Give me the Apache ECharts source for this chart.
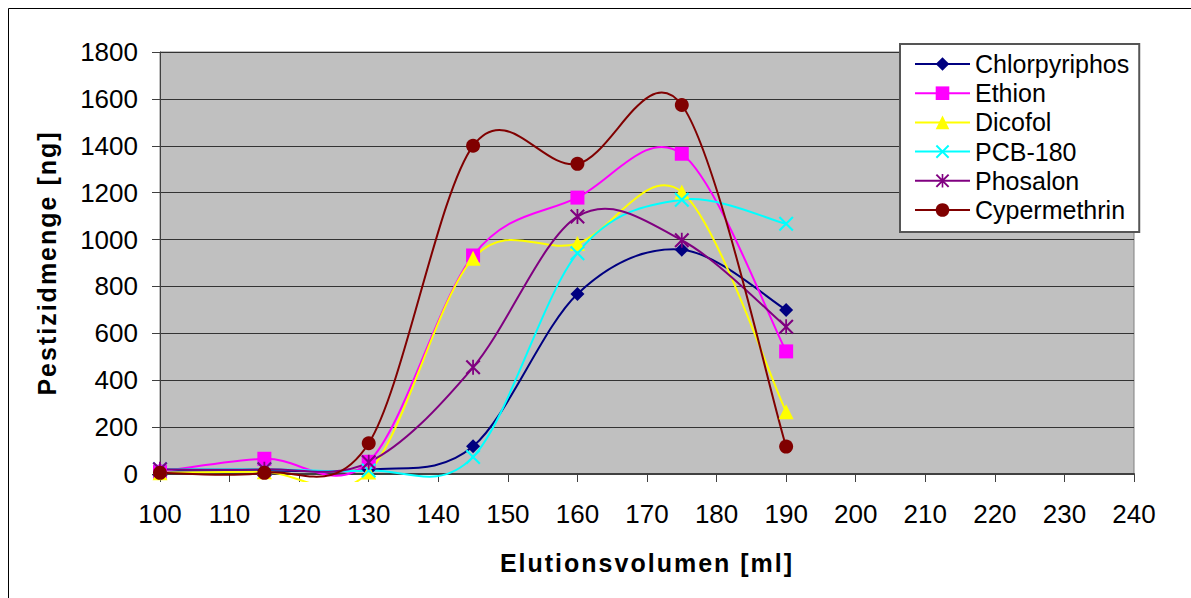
<!DOCTYPE html>
<html>
<head>
<meta charset="utf-8">
<script src="https://cdn.jsdelivr.net/npm/echarts@6/dist/echarts.min.js"></script>
<style>
  html, body { margin: 0; padding: 0; background: #fff; }
  #chart { width: 1191px; height: 598px; }
  /* axis titles are set a little wider, as in the spreadsheet export */
  #chart svg text[style*="bold"] { letter-spacing: 2px; }
</style>
</head>
<body>
<div id="chart"></div>
<script>
// Elution volume (ml) of each collected fraction
const volumes = [100, 115, 130, 145, 160, 175, 190];

// Recovered pesticide amount per fraction (ng)
const chlorpyriphos = [15, 15, 18, 118, 768, 957, 700];
const ethion        = [10, 65, 52, 932, 1179, 1366, 523];
const dicofol       = [5, 10, 8, 920, 983, 1203, 265];
const pcb180        = [20, 20, 15, 73, 942, 1170, 1067];
const phosalon      = [20, 20, 50, 455, 1098, 997, 628];
const cypermethrin  = [5, 5, 131, 1400, 1323, 1574, 117];

const seriesNames = ['Chlorpyriphos', 'Ethion', 'Dicofol', 'PCB-180', 'Phosalon', 'Cypermethrin'];

// x axis: 100 … 240 ml, y axis: 0 … 1800 ng
const xTicks = { min: 100, max: 240, step: 10 };
const yTicks = { min: 0, max: 1800, step: 200 };

const FONT = '"Liberation Sans", Arial, Helvetica, sans-serif';

// marker shapes
const crossPath = 'path://M0,1L1,0L10,9L9,10ZM9,0L10,1L1,10L0,9Z';
const starPath  = 'path://M0,1L1,0L10,9L9,10ZM9,0L10,1L1,10L0,9ZM4.4,0L5.6,0L5.6,10L4.4,10Z';

const styles = [
  { color: '#000080', symbol: 'diamond',  size: 14 },
  { color: '#FF00FF', symbol: 'rect',     size: 14 },
  { color: '#FFFF00', symbol: 'triangle', size: 15 },
  { color: '#00FFFF', symbol: crossPath,  size: 15 },
  { color: '#800080', symbol: starPath,   size: 15 },
  { color: '#800000', symbol: 'circle',   size: 14 }
];

const values = [chlorpyriphos, ethion, dicofol, pcb180, phosalon, cypermethrin];

// Spreadsheet-style smoothed line: cubic Bezier through every data point,
// tangents taken from the neighbouring points (Catmull-Rom).
// The curve may run a few pixels under the x axis, then it is cut off.
function smoothCurve(color) {
  return function (params, api) {
    if (params.dataIndexInside !== 0) return null;
    const n = params.dataInsideLength;
    const pts = [];
    for (let i = 0; i < n; i++) {
      pts.push(api.coord([api.value(0, i), api.value(1, i)]));
    }
    let d = 'M' + pts[0][0] + ',' + pts[0][1];
    for (let i = 0; i < n - 1; i++) {
      const p0 = pts[Math.max(i - 1, 0)];
      const p1 = pts[i];
      const p2 = pts[i + 1];
      const p3 = pts[Math.min(i + 2, n - 1)];
      const c1x = p1[0] + (p2[0] - p0[0]) / 6;
      const c1y = p1[1] + (p2[1] - p0[1]) / 6;
      const c2x = p2[0] - (p3[0] - p1[0]) / 6;
      const c2y = p2[1] - (p3[1] - p1[1]) / 6;
      d += 'C' + c1x + ',' + c1y + ',' + c2x + ',' + c2y + ',' + p2[0] + ',' + p2[1];
    }
    const cs = params.coordSys;
    return {
      type: 'group',
      clipPath: {
        type: 'rect',
        shape: { x: cs.x - 10, y: cs.y - 10, width: cs.width + 20, height: cs.height + 18 }
      },
      children: [{
        type: 'path',
        shape: { pathData: d },
        style: { fill: 'none', stroke: color, lineWidth: 2 },
        silent: true
      }]
    };
  };
}

// markers (and legend entries)
const markerSeries = values.map((vals, k) => ({
  name: seriesNames[k],
  type: 'line',
  data: volumes.map((v, i) => [v, vals[i]]),
  symbol: styles[k].symbol,
  symbolSize: styles[k].size,
  showAllSymbol: true,
  lineStyle: { color: styles[k].color, width: 2, opacity: 0 },
  itemStyle: { color: styles[k].color },
  emphasis: { disabled: true },
  z: 10 + k
}));

// smoothed connecting curves
const curveSeries = values.map((vals, k) => ({
  name: seriesNames[k],
  type: 'custom',
  data: volumes.map((v, i) => [v, vals[i]]),
  encode: { x: 0, y: 1 },
  renderItem: smoothCurve(styles[k].color),
  clip: false,
  z: 3
}));

const chart = echarts.init(document.getElementById('chart'), null, { renderer: 'svg' });

chart.setOption({
  animation: false,
  backgroundColor: '#fff',
  textStyle: { fontFamily: FONT },
  graphic: [{
    type: 'rect',
    shape: { x: 8.5, y: 8.5, width: 1220, height: 620 },
    style: { fill: 'none', stroke: '#000', lineWidth: 1 },
    silent: true,
    z: -10
  }],
  grid: {
    left: 160, right: 57, top: 52, bottom: 124,
    show: true,
    backgroundColor: '#C0C0C0',
    borderColor: '#808080',
    borderWidth: 1
  },
  legend: {
    orient: 'vertical',
    left: 900, top: 44,
    padding: [7.5, 10, 9.5, 14],
    itemWidth: 55,
    itemHeight: 17,
    itemGap: 4.2,
    backgroundColor: '#fff',
    borderColor: '#555',
    borderWidth: 2,
    borderRadius: 0,
    lineStyle: { opacity: 1, width: 2 },
    textStyle: { fontSize: 25, lineHeight: 25, color: '#000', fontFamily: FONT },
    data: seriesNames,
    z: 20
  },
  xAxis: {
    type: 'value',
    min: xTicks.min, max: xTicks.max, interval: xTicks.step,
    name: 'Elutionsvolumen [ml]',
    nameLocation: 'middle',
    nameGap: 76,
    nameTextStyle: { fontSize: 25, fontWeight: 'bold', color: '#000', fontFamily: FONT },
    axisLine: { show: true, onZero: false, lineStyle: { color: '#404040', width: 2 } },
    axisTick: { show: true, inside: false, length: 8, lineStyle: { color: '#404040', width: 1 } },
    axisLabel: { fontSize: 26, color: '#000', margin: 27, fontFamily: FONT, formatter: v => String(v) },
    splitLine: { show: false }
  },
  yAxis: {
    type: 'value',
    min: yTicks.min, max: yTicks.max, interval: yTicks.step,
    name: 'Pestizidmenge [ng]',
    nameLocation: 'middle',
    nameGap: 101,
    nameRotate: 90,
    nameTextStyle: { fontSize: 25, fontWeight: 'bold', color: '#000', fontFamily: FONT },
    axisLine: { show: true, lineStyle: { color: '#404040', width: 1 } },
    axisTick: { show: true, inside: false, length: 8, lineStyle: { color: '#404040', width: 1 } },
    axisLabel: { fontSize: 26, color: '#000', margin: 22, fontFamily: FONT, formatter: v => String(v) },
    splitLine: { show: true, lineStyle: { color: '#333', width: 1 } }
  },
  series: markerSeries.concat(curveSeries)
});
</script>
</body>
</html>
